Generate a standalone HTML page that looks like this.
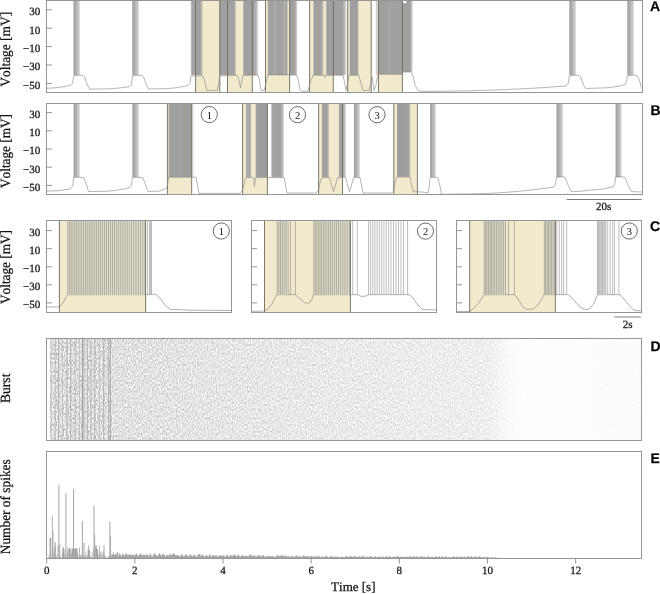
<!DOCTYPE html>
<html><head><meta charset="utf-8"><style>
html,body{margin:0;padding:0;background:#fff;width:660px;height:594px;overflow:hidden;font-family:"Liberation Serif", serif;}
svg{display:block;will-change:transform;} text{font-kerning:none;text-rendering:geometricPrecision;stroke:#111;stroke-width:0.25px;} text.n{stroke:none;}
</style></head><body><svg width="660" height="594" viewBox="0 0 660 594"><defs><linearGradient id="g1" x1="0" x2="1" y1="0" y2="0"><stop offset="0.000" stop-color="#9e9e9e"/><stop offset="0.250" stop-color="#a8a8a8"/><stop offset="0.500" stop-color="#b8b8b8"/><stop offset="0.800" stop-color="#cacaca"/><stop offset="1.000" stop-color="#e6e6e6"/></linearGradient><linearGradient id="g2" x1="0" x2="1" y1="0" y2="0"><stop offset="0.000" stop-color="#c2c2c2"/><stop offset="0.140" stop-color="#a4a4a4"/><stop offset="0.700" stop-color="#a0a0a0"/><stop offset="0.850" stop-color="#b4b2aa"/><stop offset="1.000" stop-color="#f2eacc"/></linearGradient><linearGradient id="g3" x1="0" x2="1" y1="0" y2="0"><stop offset="0.000" stop-color="#a0a0a0"/><stop offset="0.860" stop-color="#a2a2a2"/><stop offset="0.930" stop-color="#c8c4b4"/><stop offset="1.000" stop-color="#f2eacc"/></linearGradient><linearGradient id="g4" x1="0" x2="1" y1="0" y2="0"><stop offset="0.000" stop-color="#b8b6ae"/><stop offset="0.050" stop-color="#a0a0a0"/><stop offset="0.620" stop-color="#9f9f9f"/><stop offset="0.800" stop-color="#aaaaaa"/><stop offset="1.000" stop-color="#dcdcdc"/></linearGradient><linearGradient id="g5" x1="0" x2="1" y1="0" y2="0"><stop offset="0.000" stop-color="#c8c5b8"/><stop offset="0.050" stop-color="#a2a2a2"/><stop offset="0.300" stop-color="#a2a2a2"/><stop offset="0.360" stop-color="#b8b7b0"/><stop offset="0.420" stop-color="#a2a2a2"/><stop offset="0.770" stop-color="#a4a4a4"/><stop offset="0.820" stop-color="#b8b6ae"/><stop offset="0.870" stop-color="#a4a4a4"/><stop offset="0.930" stop-color="#a8a8a6"/><stop offset="1.000" stop-color="#f2eacc"/></linearGradient><linearGradient id="g6" x1="0" x2="1" y1="0" y2="0"><stop offset="0.000" stop-color="#9e9e9e"/><stop offset="0.700" stop-color="#a4a4a4"/><stop offset="1.000" stop-color="#d8d8d8"/></linearGradient><linearGradient id="g7" x1="0" x2="1" y1="0" y2="0"><stop offset="0.000" stop-color="#c8c5b8"/><stop offset="0.070" stop-color="#a0a0a0"/><stop offset="0.720" stop-color="#a2a2a2"/><stop offset="0.880" stop-color="#c6c2b2"/><stop offset="1.000" stop-color="#f2eacc"/></linearGradient><linearGradient id="g8" x1="0" x2="1" y1="0" y2="0"><stop offset="0.000" stop-color="#d0ccbc"/><stop offset="0.060" stop-color="#a0a0a0"/><stop offset="0.780" stop-color="#a0a0a0"/><stop offset="0.900" stop-color="#b8b8b8"/><stop offset="1.000" stop-color="#ececec"/></linearGradient><linearGradient id="g9" x1="0" x2="1" y1="0" y2="0"><stop offset="0.000" stop-color="#c0bdb2"/><stop offset="0.100" stop-color="#9f9f9f"/><stop offset="0.850" stop-color="#a0a0a0"/><stop offset="1.000" stop-color="#cfcab8"/></linearGradient><linearGradient id="g10" x1="0" x2="1" y1="0" y2="0"><stop offset="0.000" stop-color="#a0a0a0"/><stop offset="0.300" stop-color="#a1a1a1"/><stop offset="0.330" stop-color="#ababab"/><stop offset="0.360" stop-color="#a0a0a0"/><stop offset="0.920" stop-color="#a0a0a0"/><stop offset="1.000" stop-color="#d4d4d4"/></linearGradient><linearGradient id="g11" x1="0" x2="1" y1="0" y2="0"><stop offset="0.000" stop-color="#a2a2a2"/><stop offset="0.500" stop-color="#9e9e9e"/><stop offset="0.550" stop-color="#a4a4a4"/><stop offset="0.600" stop-color="#9e9e9e"/><stop offset="1.000" stop-color="#9c9c9c"/></linearGradient><linearGradient id="g12" x1="0" x2="1" y1="0" y2="0"><stop offset="0.000" stop-color="#d4d4d4"/><stop offset="1.000" stop-color="#ffffff"/></linearGradient><linearGradient id="g13" x1="0" x2="1" y1="0" y2="0"><stop offset="0.000" stop-color="#cfcbbb"/><stop offset="0.200" stop-color="#a8a8a8"/><stop offset="0.800" stop-color="#aaaaaa"/><stop offset="1.000" stop-color="#d8d3c0"/></linearGradient><linearGradient id="g14" x1="0" x2="1" y1="0" y2="0"><stop offset="0.000" stop-color="#b0aea6"/><stop offset="0.100" stop-color="#9c9c9c"/><stop offset="1.000" stop-color="#9c9c9c"/></linearGradient><linearGradient id="g15" x1="0" x2="1" y1="0" y2="0"><stop offset="0.000" stop-color="#a4a4a4"/><stop offset="0.700" stop-color="#a2a2a2"/><stop offset="0.850" stop-color="#b2b2b2"/><stop offset="1.000" stop-color="#e0e0e0"/></linearGradient><linearGradient id="g16" x1="0" x2="1" y1="0" y2="0"><stop offset="0.000" stop-color="#b8b5aa"/><stop offset="0.150" stop-color="#9e9e9e"/><stop offset="0.600" stop-color="#a2a2a2"/><stop offset="0.800" stop-color="#b0aea6"/><stop offset="1.000" stop-color="#f2eacc"/></linearGradient><linearGradient id="g17" x1="0" x2="1" y1="0" y2="0"><stop offset="0.000" stop-color="#b8b5aa"/><stop offset="0.150" stop-color="#a0a0a0"/><stop offset="0.600" stop-color="#a4a4a4"/><stop offset="1.000" stop-color="#e0e0e0"/></linearGradient><linearGradient id="g18" x1="0" x2="1" y1="0" y2="0"><stop offset="0.000" stop-color="#b4b2a8"/><stop offset="0.060" stop-color="#9c9c9c"/><stop offset="0.820" stop-color="#9e9e9e"/><stop offset="0.900" stop-color="#b4b2aa"/><stop offset="1.000" stop-color="#f2eacc"/></linearGradient><filter id="dn" x="0" y="0" width="1" height="1" filterUnits="objectBoundingBox" color-interpolation-filters="sRGB"><feTurbulence type="fractalNoise" baseFrequency="0.8 0.45" numOctaves="1" seed="11"/><feColorMatrix type="matrix" values="0.6 0 0 0 0.55  0.6 0 0 0 0.55  0.6 0 0 0 0.55  0 0 0 0 1"/></filter><filter id="dn2" x="0" y="0" width="1" height="1" filterUnits="objectBoundingBox" color-interpolation-filters="sRGB"><feTurbulence type="fractalNoise" baseFrequency="0.85 0.45" numOctaves="1" seed="4"/><feColorMatrix type="matrix" values="0.75 0 0 0 0.5  0.75 0 0 0 0.5  0.75 0 0 0 0.5  0 0 0 0 1"/></filter><linearGradient id="dfade" gradientUnits="userSpaceOnUse" x1="50" x2="642" y1="0" y2="0"><stop offset="0.0000" stop-color="#fff" stop-opacity="0.000"/><stop offset="0.1014" stop-color="#fff" stop-opacity="0.000"/><stop offset="0.1030" stop-color="#fff" stop-opacity="0.200"/><stop offset="0.1858" stop-color="#fff" stop-opacity="0.250"/><stop offset="0.2534" stop-color="#fff" stop-opacity="0.300"/><stop offset="0.4223" stop-color="#fff" stop-opacity="0.420"/><stop offset="0.5912" stop-color="#fff" stop-opacity="0.500"/><stop offset="0.7264" stop-color="#fff" stop-opacity="0.560"/><stop offset="0.7466" stop-color="#fff" stop-opacity="0.620"/><stop offset="0.7601" stop-color="#fff" stop-opacity="0.740"/><stop offset="0.7736" stop-color="#fff" stop-opacity="0.860"/><stop offset="0.7855" stop-color="#fff" stop-opacity="0.930"/><stop offset="0.8024" stop-color="#fff" stop-opacity="0.960"/><stop offset="0.8953" stop-color="#fff" stop-opacity="0.960"/><stop offset="0.9291" stop-color="#fff" stop-opacity="0.930"/><stop offset="1.0000" stop-color="#fff" stop-opacity="0.920"/></linearGradient></defs><rect x="195.60" y="0.50" width="24.20" height="92.00" fill="#f2eacc"/><rect x="227.50" y="0.50" width="24.80" height="92.00" fill="#f2eacc"/><rect x="265.50" y="0.50" width="24.10" height="92.00" fill="#f2eacc"/><rect x="309.60" y="0.50" width="23.70" height="92.00" fill="#f2eacc"/><rect x="347.70" y="0.50" width="23.50" height="92.00" fill="#f2eacc"/><rect x="378.50" y="0.50" width="23.90" height="92.00" fill="#f2eacc"/><rect x="73.50" y="1.00" width="6.50" height="74.20" fill="url(#g1)"/><rect x="132.30" y="1.00" width="6.70" height="74.20" fill="url(#g1)"/><rect x="190.80" y="1.00" width="12.40" height="74.20" fill="url(#g2)"/><rect x="219.60" y="1.00" width="17.00" height="74.20" fill="url(#g3)"/><rect x="243.20" y="1.00" width="15.00" height="74.20" fill="url(#g4)"/><rect x="267.60" y="1.00" width="20.60" height="74.20" fill="url(#g5)"/><rect x="289.60" y="1.00" width="7.60" height="74.20" fill="url(#g6)"/><rect x="313.20" y="1.00" width="11.00" height="74.20" fill="url(#g7)"/><rect x="325.80" y="1.00" width="20.80" height="74.20" fill="url(#g8)"/><rect x="349.60" y="1.00" width="9.00" height="74.20" fill="url(#g9)"/><rect x="375.80" y="1.00" width="2.00" height="74.20" fill="#cfcfcf"/><rect x="378.50" y="1.00" width="34.10" height="73.30" fill="url(#g10)"/><rect x="402.80" y="72.00" width="9.80" height="2.60" fill="#ffffff"/><rect x="402.60" y="0.90" width="3.60" height="2.30" fill="#ffffff"/><rect x="569.30" y="1.00" width="6.70" height="74.20" fill="url(#g1)"/><rect x="627.30" y="1.00" width="6.70" height="74.20" fill="url(#g1)"/><line x1="195.60" y1="0.50" x2="195.60" y2="92.50" stroke="#6e6a5e" stroke-width="0.9"/><line x1="219.80" y1="0.50" x2="219.80" y2="92.50" stroke="#6e6a5e" stroke-width="0.9"/><line x1="227.50" y1="0.50" x2="227.50" y2="92.50" stroke="#6e6a5e" stroke-width="0.9"/><line x1="252.30" y1="0.50" x2="252.30" y2="92.50" stroke="#6e6a5e" stroke-width="0.9"/><line x1="265.50" y1="0.50" x2="265.50" y2="92.50" stroke="#6e6a5e" stroke-width="0.9"/><line x1="289.60" y1="0.50" x2="289.60" y2="92.50" stroke="#6e6a5e" stroke-width="0.9"/><line x1="309.60" y1="0.50" x2="309.60" y2="92.50" stroke="#6e6a5e" stroke-width="0.9"/><line x1="333.30" y1="0.50" x2="333.30" y2="92.50" stroke="#6e6a5e" stroke-width="0.9"/><line x1="347.70" y1="0.50" x2="347.70" y2="92.50" stroke="#6e6a5e" stroke-width="0.9"/><line x1="371.20" y1="0.50" x2="371.20" y2="92.50" stroke="#6e6a5e" stroke-width="0.9"/><line x1="378.50" y1="0.50" x2="378.50" y2="92.50" stroke="#6e6a5e" stroke-width="0.9"/><line x1="402.40" y1="0.50" x2="402.40" y2="92.50" stroke="#6e6a5e" stroke-width="0.9"/><path d="M47.00 88.20 L50.25 88.14 L53.50 87.95 L56.75 87.64 L60.00 87.20 L70.00 85.60 L72.50 83.50 L73.30 78.00 L74.00 75.50 L80.00 75.00 L83.00 75.50 L85.00 78.00 L87.50 85.00 L89.70 89.20 L100.00 89.00 L103.22 88.97 L106.44 88.89 L109.67 88.74 L112.89 88.55 L116.11 88.29 L119.33 87.98 L122.56 87.61 L125.78 87.18 L129.00 86.70 L131.50 85.00 L132.30 76.00 L139.00 75.00 L142.00 75.50 L144.00 78.00 L146.50 85.00 L148.50 89.00 L160.00 88.80 L163.11 88.76 L166.22 88.64 L169.33 88.43 L172.44 88.15 L175.56 87.78 L178.67 87.33 L181.78 86.80 L184.89 86.19 L188.00 85.50 L190.30 83.00 L190.80 76.00 L193.85 76.00 L196.90 76.00 L199.95 76.00 L203.00 76.00 L205.00 82.00 L206.80 90.40 L217.20 90.40 L219.00 82.00 L219.60 76.00 L223.18 75.97 L226.76 75.87 L230.34 75.71 L233.92 75.49 L237.50 75.20 L239.30 82.00 L240.40 88.00 L241.60 82.00 L243.00 75.20 L246.00 75.20 L249.00 75.20 L252.00 75.20 L255.00 75.20 L258.00 75.20 L259.50 80.00 L261.00 90.40 L264.00 90.40 L265.60 85.00 L268.00 74.60 L271.17 74.60 L274.33 74.62 L277.50 74.64 L280.67 74.68 L283.83 74.72 L287.00 74.78 L290.17 74.84 L293.33 74.92 L296.50 75.00 L298.20 80.00 L299.80 89.50 L301.50 91.20 L308.00 91.20 L309.50 85.00 L313.00 75.20 L324.00 75.20 L324.80 77.60 L325.60 75.20 L329.08 75.20 L332.56 75.20 L336.04 75.20 L339.52 75.20 L343.00 75.20 L344.50 82.00 L346.00 90.50 L347.20 85.00 L349.00 75.20 L358.80 75.20 L360.60 82.00 L363.00 90.40 L369.00 90.40 L371.00 82.00 L372.40 77.00 L374.00 90.50 L376.00 85.00 L377.50 76.00 L378.50 74.30 L381.91 74.30 L385.33 74.30 L388.74 74.30 L392.16 74.30 L395.57 74.30 L398.99 74.30 L402.40 74.30 L403.00 72.00 L411.00 72.00 L413.00 76.00 L415.00 85.00 L418.30 90.80 L424.00 91.30 L427.02 91.30 L430.04 91.29 L433.06 91.28 L436.09 91.26 L439.11 91.24 L442.13 91.21 L445.15 91.18 L448.17 91.15 L451.19 91.11 L454.21 91.06 L457.23 91.01 L460.26 90.95 L463.28 90.89 L466.30 90.83 L469.32 90.76 L472.34 90.69 L475.36 90.61 L478.38 90.52 L481.40 90.43 L484.43 90.34 L487.45 90.24 L490.47 90.14 L493.49 90.03 L496.51 89.92 L499.53 89.80 L502.55 89.68 L505.57 89.55 L508.60 89.42 L511.62 89.28 L514.64 89.14 L517.66 88.99 L520.68 88.84 L523.70 88.69 L526.72 88.53 L529.74 88.36 L532.77 88.19 L535.79 88.02 L538.81 87.84 L541.83 87.65 L544.85 87.46 L547.87 87.27 L550.89 87.07 L553.91 86.86 L556.94 86.66 L559.96 86.44 L562.98 86.22 L566.00 86.00 L568.40 83.00 L569.30 76.00 L576.00 75.00 L579.00 75.50 L581.00 78.00 L583.50 85.00 L585.50 88.40 L589.12 88.38 L592.75 88.30 L596.38 88.17 L600.00 88.00 L603.12 87.95 L606.25 87.79 L609.38 87.52 L612.50 87.15 L615.62 86.67 L618.75 86.09 L621.88 85.40 L625.00 84.60 L626.50 82.00 L627.30 76.00 L634.00 75.00 L637.00 75.50 L639.00 79.00 L641.00 86.00 L642.00 87.50" fill="none" stroke="#8c8c8c" stroke-width="0.65" stroke-linejoin="round"/><rect x="46.50" y="0.50" width="596.00" height="92.00" fill="none" stroke="#959595" stroke-width="1"/><line x1="46.50" y1="9.80" x2="52.00" y2="9.80" stroke="#959595" stroke-width="1"/><text x="40.3" y="15.20" text-anchor="end" font-family='"Liberation Serif", serif' font-size="11" fill="#111">30</text><line x1="46.50" y1="28.20" x2="52.00" y2="28.20" stroke="#959595" stroke-width="1"/><text x="40.3" y="33.60" text-anchor="end" font-family='"Liberation Serif", serif' font-size="11" fill="#111">10</text><line x1="46.50" y1="46.60" x2="52.00" y2="46.60" stroke="#959595" stroke-width="1"/><text x="40.3" y="52.00" text-anchor="end" font-family='"Liberation Serif", serif' font-size="11" fill="#111">−10</text><line x1="46.50" y1="65.00" x2="52.00" y2="65.00" stroke="#959595" stroke-width="1"/><text x="40.3" y="70.40" text-anchor="end" font-family='"Liberation Serif", serif' font-size="11" fill="#111">−30</text><line x1="46.50" y1="83.40" x2="52.00" y2="83.40" stroke="#959595" stroke-width="1"/><text x="40.3" y="88.80" text-anchor="end" font-family='"Liberation Serif", serif' font-size="11" fill="#111">−50</text><text x="0" y="0" transform="translate(9.80 49.30) rotate(-90)" text-anchor="middle" font-family='"Liberation Serif", serif' font-size="14" fill="#111" textLength="74.80" lengthAdjust="spacingAndGlyphs">Voltage [mV]</text><text x="650.00" y="10.90" text-anchor="start" font-family='"Liberation Sans", sans-serif' font-size="14" font-weight="bold" fill="#000">A</text><rect x="167.40" y="103.50" width="24.30" height="91.00" fill="#f2eacc"/><rect x="242.60" y="103.50" width="24.80" height="91.00" fill="#f2eacc"/><rect x="318.60" y="103.50" width="23.90" height="91.00" fill="#f2eacc"/><rect x="393.80" y="103.50" width="23.60" height="91.00" fill="#f2eacc"/><rect x="73.60" y="104.00" width="6.30" height="73.20" fill="url(#g1)"/><rect x="132.40" y="104.00" width="6.60" height="73.20" fill="url(#g1)"/><rect x="168.60" y="104.00" width="23.10" height="73.20" fill="url(#g11)"/><rect x="191.70" y="104.00" width="2.90" height="73.20" fill="url(#g12)"/><rect x="245.60" y="104.00" width="5.80" height="73.20" fill="url(#g13)"/><rect x="255.60" y="104.00" width="11.80" height="73.20" fill="url(#g14)"/><rect x="271.40" y="104.00" width="12.60" height="73.20" fill="url(#g15)"/><rect x="321.80" y="104.00" width="7.80" height="73.20" fill="url(#g16)"/><rect x="338.80" y="104.00" width="7.20" height="73.20" fill="url(#g17)"/><rect x="354.00" y="104.00" width="6.00" height="73.20" fill="url(#g1)"/><rect x="397.00" y="104.00" width="13.80" height="72.80" fill="url(#g18)"/><rect x="430.10" y="104.00" width="5.90" height="73.20" fill="url(#g1)"/><rect x="556.50" y="104.00" width="6.60" height="73.20" fill="url(#g1)"/><rect x="615.60" y="104.00" width="6.20" height="73.20" fill="url(#g1)"/><line x1="167.40" y1="103.50" x2="167.40" y2="194.50" stroke="#6e6a5e" stroke-width="0.9"/><line x1="191.70" y1="103.50" x2="191.70" y2="194.50" stroke="#6e6a5e" stroke-width="0.9"/><line x1="242.60" y1="103.50" x2="242.60" y2="194.50" stroke="#6e6a5e" stroke-width="0.9"/><line x1="267.40" y1="103.50" x2="267.40" y2="194.50" stroke="#6e6a5e" stroke-width="0.9"/><line x1="318.60" y1="103.50" x2="318.60" y2="194.50" stroke="#6e6a5e" stroke-width="0.9"/><line x1="342.50" y1="103.50" x2="342.50" y2="194.50" stroke="#6e6a5e" stroke-width="0.9"/><line x1="393.80" y1="103.50" x2="393.80" y2="194.50" stroke="#6e6a5e" stroke-width="0.9"/><line x1="417.40" y1="103.50" x2="417.40" y2="194.50" stroke="#6e6a5e" stroke-width="0.9"/><path d="M47.00 191.00 L50.25 190.97 L53.50 190.88 L56.75 190.72 L60.00 190.50 L70.00 189.00 L72.80 186.00 L73.60 177.50 L80.00 177.20 L84.00 178.00 L86.50 185.00 L88.50 191.60 L100.00 191.40 L103.22 191.36 L106.44 191.22 L109.67 191.00 L112.89 190.69 L116.11 190.29 L119.33 189.80 L122.56 189.22 L125.78 188.56 L129.00 187.80 L131.60 185.00 L132.40 177.50 L139.00 177.20 L143.00 178.00 L145.50 185.00 L148.00 191.60 L160.00 191.00 L166.00 188.50 L167.40 186.00 L168.60 177.20 L171.64 177.20 L174.69 177.20 L177.73 177.20 L180.78 177.20 L183.82 177.20 L186.87 177.20 L189.91 177.20 L192.96 177.20 L196.00 177.20 L197.50 185.00 L199.00 193.30 L202.15 193.30 L205.31 193.30 L208.46 193.30 L211.62 193.30 L214.77 193.30 L217.92 193.30 L221.08 193.30 L224.23 193.30 L227.38 193.30 L230.54 193.30 L233.69 193.30 L236.85 193.30 L240.00 193.30 L242.60 190.00 L245.00 180.00 L246.00 177.60 L253.50 177.60 L254.50 186.60 L255.50 177.60 L258.67 177.60 L261.83 177.60 L265.00 177.60 L268.17 177.60 L271.33 177.60 L274.50 177.60 L277.67 177.60 L280.83 177.60 L284.00 177.60 L285.50 185.00 L287.00 193.00 L290.22 193.00 L293.44 193.00 L296.67 193.00 L299.89 193.00 L303.11 193.00 L306.33 193.00 L309.56 193.00 L312.78 193.00 L316.00 193.00 L318.60 190.00 L320.50 180.00 L322.00 177.60 L329.50 177.60 L331.50 185.00 L333.50 191.60 L335.50 185.00 L337.50 177.60 L345.80 177.60 L347.50 185.00 L349.50 191.60 L351.50 185.00 L353.50 177.60 L360.00 177.60 L361.50 185.00 L363.00 193.00 L366.22 193.00 L369.44 193.00 L372.67 193.00 L375.89 193.00 L379.11 193.00 L382.33 193.00 L385.56 193.00 L388.78 193.00 L392.00 193.00 L393.80 190.00 L395.50 180.00 L397.00 177.00 L400.25 177.00 L403.50 177.00 L406.75 177.00 L410.00 177.00 L411.50 185.00 L413.50 191.60 L417.12 191.69 L420.75 191.95 L424.38 192.39 L428.00 193.00 L429.30 186.00 L430.10 177.50 L436.00 177.20 L438.00 178.00 L440.00 186.00 L441.50 194.20 L444.58 194.19 L447.67 194.18 L450.75 194.15 L453.83 194.11 L456.92 194.06 L460.00 194.00 L463.03 193.99 L466.06 193.97 L469.10 193.93 L472.13 193.88 L475.16 193.82 L478.19 193.74 L481.23 193.64 L484.26 193.53 L487.29 193.41 L490.32 193.27 L493.35 193.12 L496.39 192.95 L499.42 192.77 L502.45 192.57 L505.48 192.36 L508.52 192.14 L511.55 191.89 L514.58 191.64 L517.61 191.37 L520.65 191.09 L523.68 190.79 L526.71 190.47 L529.74 190.15 L532.77 189.80 L535.81 189.45 L538.84 189.08 L541.87 188.69 L544.90 188.29 L547.94 187.87 L550.97 187.44 L554.00 187.00 L555.60 184.00 L556.50 177.00 L563.00 176.70 L565.00 177.50 L568.00 185.00 L571.40 191.60 L574.50 191.56 L577.60 191.42 L580.70 191.20 L583.80 190.89 L586.90 190.49 L590.00 190.00 L593.34 189.93 L596.69 189.72 L600.03 189.38 L603.37 188.89 L606.71 188.27 L610.06 187.50 L613.40 186.60 L615.00 183.00 L615.60 177.00 L621.70 176.70 L625.00 177.50 L628.00 185.00 L631.60 191.60 L642.00 192.00" fill="none" stroke="#8c8c8c" stroke-width="0.65" stroke-linejoin="round"/><rect x="46.50" y="103.50" width="596.00" height="91.00" fill="none" stroke="#959595" stroke-width="1"/><line x1="46.50" y1="112.60" x2="52.00" y2="112.60" stroke="#959595" stroke-width="1"/><text x="40.3" y="118.00" text-anchor="end" font-family='"Liberation Serif", serif' font-size="11" fill="#111">30</text><line x1="46.50" y1="130.80" x2="52.00" y2="130.80" stroke="#959595" stroke-width="1"/><text x="40.3" y="136.20" text-anchor="end" font-family='"Liberation Serif", serif' font-size="11" fill="#111">10</text><line x1="46.50" y1="149.00" x2="52.00" y2="149.00" stroke="#959595" stroke-width="1"/><text x="40.3" y="154.40" text-anchor="end" font-family='"Liberation Serif", serif' font-size="11" fill="#111">−10</text><line x1="46.50" y1="167.20" x2="52.00" y2="167.20" stroke="#959595" stroke-width="1"/><text x="40.3" y="172.60" text-anchor="end" font-family='"Liberation Serif", serif' font-size="11" fill="#111">−30</text><line x1="46.50" y1="185.40" x2="52.00" y2="185.40" stroke="#959595" stroke-width="1"/><text x="40.3" y="190.80" text-anchor="end" font-family='"Liberation Serif", serif' font-size="11" fill="#111">−50</text><text x="0" y="0" transform="translate(9.80 151.00) rotate(-90)" text-anchor="middle" font-family='"Liberation Serif", serif' font-size="14" fill="#111" textLength="74.00" lengthAdjust="spacingAndGlyphs">Voltage [mV]</text><text x="650.50" y="114.60" text-anchor="start" font-family='"Liberation Sans", sans-serif' font-size="14" font-weight="bold" fill="#000">B</text><circle cx="209.30" cy="114.60" r="8.1" fill="#fff" stroke="#444" stroke-width="0.8"/><text x="209.30" y="118.70" text-anchor="middle" font-family='"Liberation Serif", serif' font-size="10.5" font-weight="normal" fill="#111" class="n">1</text><circle cx="297.50" cy="114.70" r="8.1" fill="#fff" stroke="#444" stroke-width="0.8"/><text x="297.50" y="118.80" text-anchor="middle" font-family='"Liberation Serif", serif' font-size="10.5" font-weight="normal" fill="#111" class="n">2</text><circle cx="377.00" cy="114.70" r="8.1" fill="#fff" stroke="#444" stroke-width="0.8"/><text x="377.00" y="118.80" text-anchor="middle" font-family='"Liberation Serif", serif' font-size="10.5" font-weight="normal" fill="#111" class="n">3</text><line x1="566.8" y1="199.5" x2="641.8" y2="199.5" stroke="#7a7a7a" stroke-width="1"/><text x="603.60" y="210.30" text-anchor="middle" font-family='"Liberation Serif", serif' font-size="11" font-weight="normal" fill="#111">20s</text><rect x="59.40" y="220.50" width="86.20" height="92.00" fill="#f2eacc"/><path d="M47.00 307.00 L58.00 307.00 L60.00 306.50 L63.00 303.00 L65.50 298.00 L67.40 294.60 L70.44 294.60 L73.48 294.60 L76.52 294.60 L79.56 294.60 L82.60 294.60 L85.64 294.60 L88.68 294.60 L91.71 294.60 L94.75 294.60 L97.79 294.60 L100.83 294.60 L103.87 294.60 L106.91 294.60 L109.95 294.60 L112.99 294.60 L116.03 294.60 L119.07 294.60 L122.11 294.60 L125.15 294.60 L128.19 294.60 L131.22 294.60 L134.26 294.60 L137.30 294.60 L140.34 294.60 L143.38 294.60 L146.42 294.60 L149.46 294.60 L152.50 294.60 L154.00 293.80 L156.50 294.80 L160.00 298.00 L165.00 305.00 L170.70 309.50 L173.92 309.52 L177.13 309.59 L180.35 309.70 L183.57 309.86 L186.78 310.06 L190.00 310.30 L193.15 310.30 L196.31 310.30 L199.46 310.31 L202.62 310.32 L205.77 310.33 L208.92 310.34 L212.08 310.36 L215.23 310.38 L218.38 310.40 L221.54 310.42 L224.69 310.44 L227.85 310.47 L231.00 310.50" fill="none" stroke="#8c8c8c" stroke-width="0.70" stroke-linejoin="round"/><rect x="67.60" y="221.20" width="77.60" height="74.10" fill="#e4dfcc"/><line x1="67.80" y1="221.20" x2="67.80" y2="295.10" stroke="#9e9b90" stroke-width="0.75"/><line x1="69.50" y1="221.20" x2="69.50" y2="295.10" stroke="#9e9b90" stroke-width="0.75"/><line x1="71.22" y1="221.20" x2="71.22" y2="295.10" stroke="#9e9b90" stroke-width="0.75"/><line x1="72.95" y1="221.20" x2="72.95" y2="295.10" stroke="#9e9b90" stroke-width="0.75"/><line x1="74.69" y1="221.20" x2="74.69" y2="295.10" stroke="#9e9b90" stroke-width="0.75"/><line x1="76.44" y1="221.20" x2="76.44" y2="295.10" stroke="#9e9b90" stroke-width="0.75"/><line x1="78.21" y1="221.20" x2="78.21" y2="295.10" stroke="#9e9b90" stroke-width="0.75"/><line x1="80.00" y1="221.20" x2="80.00" y2="295.10" stroke="#9e9b90" stroke-width="0.75"/><line x1="81.79" y1="221.20" x2="81.79" y2="295.10" stroke="#9e9b90" stroke-width="0.75"/><line x1="83.61" y1="221.20" x2="83.61" y2="295.10" stroke="#9e9b90" stroke-width="0.75"/><line x1="85.43" y1="221.20" x2="85.43" y2="295.10" stroke="#9e9b90" stroke-width="0.75"/><line x1="87.27" y1="221.20" x2="87.27" y2="295.10" stroke="#9e9b90" stroke-width="0.75"/><line x1="89.12" y1="221.20" x2="89.12" y2="295.10" stroke="#9e9b90" stroke-width="0.75"/><line x1="90.99" y1="221.20" x2="90.99" y2="295.10" stroke="#9e9b90" stroke-width="0.75"/><line x1="92.87" y1="221.20" x2="92.87" y2="295.10" stroke="#9e9b90" stroke-width="0.75"/><line x1="94.77" y1="221.20" x2="94.77" y2="295.10" stroke="#9e9b90" stroke-width="0.75"/><line x1="96.68" y1="221.20" x2="96.68" y2="295.10" stroke="#9e9b90" stroke-width="0.75"/><line x1="98.61" y1="221.20" x2="98.61" y2="295.10" stroke="#9e9b90" stroke-width="0.75"/><line x1="100.55" y1="221.20" x2="100.55" y2="295.10" stroke="#9e9b90" stroke-width="0.75"/><line x1="102.51" y1="221.20" x2="102.51" y2="295.10" stroke="#9e9b90" stroke-width="0.75"/><line x1="104.48" y1="221.20" x2="104.48" y2="295.10" stroke="#9e9b90" stroke-width="0.75"/><line x1="106.47" y1="221.20" x2="106.47" y2="295.10" stroke="#9e9b90" stroke-width="0.75"/><line x1="108.47" y1="221.20" x2="108.47" y2="295.10" stroke="#9e9b90" stroke-width="0.75"/><line x1="110.49" y1="221.20" x2="110.49" y2="295.10" stroke="#9e9b90" stroke-width="0.75"/><line x1="112.52" y1="221.20" x2="112.52" y2="295.10" stroke="#9e9b90" stroke-width="0.75"/><line x1="114.57" y1="221.20" x2="114.57" y2="295.10" stroke="#9e9b90" stroke-width="0.75"/><line x1="116.64" y1="221.20" x2="116.64" y2="295.10" stroke="#9e9b90" stroke-width="0.75"/><line x1="118.72" y1="221.20" x2="118.72" y2="295.10" stroke="#9e9b90" stroke-width="0.75"/><line x1="120.82" y1="221.20" x2="120.82" y2="295.10" stroke="#9e9b90" stroke-width="0.75"/><line x1="122.93" y1="221.20" x2="122.93" y2="295.10" stroke="#9e9b90" stroke-width="0.75"/><line x1="125.06" y1="221.20" x2="125.06" y2="295.10" stroke="#9e9b90" stroke-width="0.75"/><line x1="127.21" y1="221.20" x2="127.21" y2="295.10" stroke="#9e9b90" stroke-width="0.75"/><line x1="129.37" y1="221.20" x2="129.37" y2="295.10" stroke="#9e9b90" stroke-width="0.75"/><line x1="131.55" y1="221.20" x2="131.55" y2="295.10" stroke="#9e9b90" stroke-width="0.75"/><line x1="133.75" y1="221.20" x2="133.75" y2="295.10" stroke="#9e9b90" stroke-width="0.75"/><line x1="135.97" y1="221.20" x2="135.97" y2="295.10" stroke="#9e9b90" stroke-width="0.75"/><line x1="138.20" y1="221.20" x2="138.20" y2="295.10" stroke="#9e9b90" stroke-width="0.75"/><line x1="140.45" y1="221.20" x2="140.45" y2="295.10" stroke="#9e9b90" stroke-width="0.75"/><line x1="142.72" y1="221.20" x2="142.72" y2="295.10" stroke="#9e9b90" stroke-width="0.75"/><line x1="145.00" y1="221.20" x2="145.00" y2="295.10" stroke="#9e9b90" stroke-width="0.75"/><line x1="147.50" y1="221.20" x2="147.50" y2="295.10" stroke="#a8a8a8" stroke-width="0.75"/><line x1="149.50" y1="221.20" x2="149.50" y2="295.10" stroke="#a8a8a8" stroke-width="0.75"/><line x1="150.50" y1="221.20" x2="150.50" y2="295.10" stroke="#a8a8a8" stroke-width="0.75"/><line x1="151.50" y1="221.20" x2="151.50" y2="295.10" stroke="#a8a8a8" stroke-width="0.75"/><line x1="59.40" y1="220.50" x2="59.40" y2="312.50" stroke="#6e6a5e" stroke-width="0.9"/><line x1="145.60" y1="220.50" x2="145.60" y2="312.50" stroke="#6e6a5e" stroke-width="0.9"/><rect x="46.50" y="220.50" width="185.00" height="92.00" fill="none" stroke="#959595" stroke-width="1"/><line x1="46.50" y1="230.60" x2="52.00" y2="230.60" stroke="#959595" stroke-width="1"/><text x="40.3" y="236.00" text-anchor="end" font-family='"Liberation Serif", serif' font-size="11" fill="#111">30</text><line x1="46.50" y1="248.70" x2="52.00" y2="248.70" stroke="#959595" stroke-width="1"/><text x="40.3" y="254.10" text-anchor="end" font-family='"Liberation Serif", serif' font-size="11" fill="#111">10</text><line x1="46.50" y1="266.80" x2="52.00" y2="266.80" stroke="#959595" stroke-width="1"/><text x="40.3" y="272.20" text-anchor="end" font-family='"Liberation Serif", serif' font-size="11" fill="#111">−10</text><line x1="46.50" y1="284.80" x2="52.00" y2="284.80" stroke="#959595" stroke-width="1"/><text x="40.3" y="290.20" text-anchor="end" font-family='"Liberation Serif", serif' font-size="11" fill="#111">−30</text><line x1="46.50" y1="302.90" x2="52.00" y2="302.90" stroke="#959595" stroke-width="1"/><text x="40.3" y="308.30" text-anchor="end" font-family='"Liberation Serif", serif' font-size="11" fill="#111">−50</text><circle cx="221.30" cy="231.00" r="8.1" fill="#fff" stroke="#444" stroke-width="0.8"/><text x="221.30" y="235.10" text-anchor="middle" font-family='"Liberation Serif", serif' font-size="10.5" font-weight="normal" fill="#111" class="n">1</text><text x="0" y="0" transform="translate(9.80 267.00) rotate(-90)" text-anchor="middle" font-family='"Liberation Serif", serif' font-size="14" fill="#111" textLength="74.00" lengthAdjust="spacingAndGlyphs">Voltage [mV]</text><rect x="264.50" y="220.50" width="85.90" height="92.00" fill="#f2eacc"/><path d="M252.00 311.30 L255.12 311.28 L258.25 311.23 L261.38 311.13 L264.50 311.00 L268.00 309.00 L272.00 304.00 L275.00 298.00 L276.80 294.60 L279.90 294.60 L283.00 294.60 L286.10 294.60 L289.20 294.60 L292.30 294.60 L295.40 294.60 L297.00 296.00 L300.00 299.00 L304.00 302.50 L307.70 303.30 L310.50 302.00 L312.50 298.00 L313.40 294.60 L316.55 294.60 L319.70 294.60 L322.85 294.60 L326.00 294.60 L329.15 294.60 L332.30 294.60 L335.45 294.60 L338.60 294.60 L341.75 294.60 L344.90 294.60 L348.05 294.60 L351.20 294.60 L354.35 294.60 L357.50 294.60 L359.00 295.50 L362.00 296.50 L366.00 296.00 L368.20 294.60 L371.25 294.60 L374.29 294.60 L377.34 294.60 L380.38 294.60 L383.43 294.60 L386.48 294.60 L389.52 294.60 L392.57 294.60 L395.62 294.60 L398.66 294.60 L401.71 294.60 L404.75 294.60 L407.80 294.60 L410.00 295.00 L413.00 298.00 L417.00 304.00 L422.70 309.50 L426.02 309.53 L429.35 309.62 L432.68 309.78 L436.00 310.00" fill="none" stroke="#8c8c8c" stroke-width="0.70" stroke-linejoin="round"/><rect x="277.20" y="221.20" width="11.00" height="74.10" fill="#e4dfcc"/><rect x="313.80" y="221.20" width="36.60" height="74.10" fill="#e4dfcc"/><line x1="277.20" y1="221.20" x2="277.20" y2="295.10" stroke="#9e9b90" stroke-width="0.75"/><line x1="278.80" y1="221.20" x2="278.80" y2="295.10" stroke="#9e9b90" stroke-width="0.75"/><line x1="280.48" y1="221.20" x2="280.48" y2="295.10" stroke="#9e9b90" stroke-width="0.75"/><line x1="282.26" y1="221.20" x2="282.26" y2="295.10" stroke="#9e9b90" stroke-width="0.75"/><line x1="284.14" y1="221.20" x2="284.14" y2="295.10" stroke="#9e9b90" stroke-width="0.75"/><line x1="286.11" y1="221.20" x2="286.11" y2="295.10" stroke="#9e9b90" stroke-width="0.75"/><line x1="288.20" y1="221.20" x2="288.20" y2="295.10" stroke="#9e9b90" stroke-width="0.75"/><line x1="290.60" y1="221.20" x2="290.60" y2="295.10" stroke="#9e9b90" stroke-width="0.75"/><line x1="295.40" y1="221.20" x2="295.40" y2="295.10" stroke="#9e9b90" stroke-width="0.75"/><line x1="313.80" y1="221.20" x2="313.80" y2="295.10" stroke="#9e9b90" stroke-width="0.75"/><line x1="315.29" y1="221.20" x2="315.29" y2="295.10" stroke="#9e9b90" stroke-width="0.75"/><line x1="316.82" y1="221.20" x2="316.82" y2="295.10" stroke="#9e9b90" stroke-width="0.75"/><line x1="318.39" y1="221.20" x2="318.39" y2="295.10" stroke="#9e9b90" stroke-width="0.75"/><line x1="320.00" y1="221.20" x2="320.00" y2="295.10" stroke="#9e9b90" stroke-width="0.75"/><line x1="321.65" y1="221.20" x2="321.65" y2="295.10" stroke="#9e9b90" stroke-width="0.75"/><line x1="323.34" y1="221.20" x2="323.34" y2="295.10" stroke="#9e9b90" stroke-width="0.75"/><line x1="325.07" y1="221.20" x2="325.07" y2="295.10" stroke="#9e9b90" stroke-width="0.75"/><line x1="326.85" y1="221.20" x2="326.85" y2="295.10" stroke="#9e9b90" stroke-width="0.75"/><line x1="328.67" y1="221.20" x2="328.67" y2="295.10" stroke="#9e9b90" stroke-width="0.75"/><line x1="330.54" y1="221.20" x2="330.54" y2="295.10" stroke="#9e9b90" stroke-width="0.75"/><line x1="332.45" y1="221.20" x2="332.45" y2="295.10" stroke="#9e9b90" stroke-width="0.75"/><line x1="334.41" y1="221.20" x2="334.41" y2="295.10" stroke="#9e9b90" stroke-width="0.75"/><line x1="336.42" y1="221.20" x2="336.42" y2="295.10" stroke="#9e9b90" stroke-width="0.75"/><line x1="338.49" y1="221.20" x2="338.49" y2="295.10" stroke="#9e9b90" stroke-width="0.75"/><line x1="340.60" y1="221.20" x2="340.60" y2="295.10" stroke="#9e9b90" stroke-width="0.75"/><line x1="342.77" y1="221.20" x2="342.77" y2="295.10" stroke="#9e9b90" stroke-width="0.75"/><line x1="344.99" y1="221.20" x2="344.99" y2="295.10" stroke="#9e9b90" stroke-width="0.75"/><line x1="347.27" y1="221.20" x2="347.27" y2="295.10" stroke="#9e9b90" stroke-width="0.75"/><line x1="349.60" y1="221.20" x2="349.60" y2="295.10" stroke="#9e9b90" stroke-width="0.75"/><line x1="352.70" y1="221.20" x2="352.70" y2="295.10" stroke="#a8a8a8" stroke-width="0.75"/><line x1="357.30" y1="221.20" x2="357.30" y2="295.10" stroke="#a8a8a8" stroke-width="0.75"/><line x1="368.50" y1="221.20" x2="368.50" y2="295.10" stroke="#a8a8a8" stroke-width="0.75"/><line x1="370.62" y1="221.20" x2="370.62" y2="295.10" stroke="#a8a8a8" stroke-width="0.75"/><line x1="372.76" y1="221.20" x2="372.76" y2="295.10" stroke="#a8a8a8" stroke-width="0.75"/><line x1="374.94" y1="221.20" x2="374.94" y2="295.10" stroke="#a8a8a8" stroke-width="0.75"/><line x1="377.14" y1="221.20" x2="377.14" y2="295.10" stroke="#a8a8a8" stroke-width="0.75"/><line x1="379.38" y1="221.20" x2="379.38" y2="295.10" stroke="#a8a8a8" stroke-width="0.75"/><line x1="381.65" y1="221.20" x2="381.65" y2="295.10" stroke="#a8a8a8" stroke-width="0.75"/><line x1="383.96" y1="221.20" x2="383.96" y2="295.10" stroke="#a8a8a8" stroke-width="0.75"/><line x1="386.29" y1="221.20" x2="386.29" y2="295.10" stroke="#a8a8a8" stroke-width="0.75"/><line x1="388.66" y1="221.20" x2="388.66" y2="295.10" stroke="#a8a8a8" stroke-width="0.75"/><line x1="391.06" y1="221.20" x2="391.06" y2="295.10" stroke="#a8a8a8" stroke-width="0.75"/><line x1="393.50" y1="221.20" x2="393.50" y2="295.10" stroke="#a8a8a8" stroke-width="0.75"/><line x1="395.97" y1="221.20" x2="395.97" y2="295.10" stroke="#a8a8a8" stroke-width="0.75"/><line x1="398.48" y1="221.20" x2="398.48" y2="295.10" stroke="#a8a8a8" stroke-width="0.75"/><line x1="401.02" y1="221.20" x2="401.02" y2="295.10" stroke="#a8a8a8" stroke-width="0.75"/><line x1="403.60" y1="221.20" x2="403.60" y2="295.10" stroke="#a8a8a8" stroke-width="0.75"/><line x1="407.60" y1="221.20" x2="407.60" y2="295.10" stroke="#a8a8a8" stroke-width="0.75"/><line x1="264.50" y1="220.50" x2="264.50" y2="312.50" stroke="#6e6a5e" stroke-width="0.9"/><line x1="350.40" y1="220.50" x2="350.40" y2="312.50" stroke="#6e6a5e" stroke-width="0.9"/><rect x="251.50" y="220.50" width="185.00" height="92.00" fill="none" stroke="#959595" stroke-width="1"/><line x1="251.50" y1="230.60" x2="257.00" y2="230.60" stroke="#959595" stroke-width="1"/><line x1="251.50" y1="248.70" x2="257.00" y2="248.70" stroke="#959595" stroke-width="1"/><line x1="251.50" y1="266.80" x2="257.00" y2="266.80" stroke="#959595" stroke-width="1"/><line x1="251.50" y1="284.80" x2="257.00" y2="284.80" stroke="#959595" stroke-width="1"/><line x1="251.50" y1="302.90" x2="257.00" y2="302.90" stroke="#959595" stroke-width="1"/><circle cx="425.50" cy="231.10" r="8.1" fill="#fff" stroke="#444" stroke-width="0.8"/><text x="425.50" y="235.20" text-anchor="middle" font-family='"Liberation Serif", serif' font-size="10.5" font-weight="normal" fill="#111" class="n">2</text><rect x="469.70" y="220.50" width="85.70" height="92.00" fill="#f2eacc"/><path d="M457.00 311.50 L460.18 311.50 L463.35 311.50 L466.52 311.50 L469.70 311.50 L473.00 309.00 L478.00 304.00 L482.00 298.00 L484.00 294.60 L487.03 294.60 L490.06 294.60 L493.09 294.60 L496.12 294.60 L499.15 294.60 L502.18 294.60 L505.21 294.60 L508.24 294.60 L511.27 294.60 L514.30 294.60 L516.00 296.00 L519.00 301.00 L523.00 307.00 L527.00 309.40 L533.00 309.00 L538.00 305.00 L541.50 299.00 L544.00 294.60 L547.34 294.60 L550.69 294.60 L554.03 294.60 L557.37 294.60 L560.71 294.60 L564.06 294.60 L567.40 294.60 L569.00 295.50 L573.00 299.00 L578.00 305.00 L582.00 308.50 L586.00 309.60 L590.00 308.50 L594.00 303.00 L596.50 297.00 L597.40 294.60 L600.47 294.60 L603.54 294.60 L606.61 294.60 L609.69 294.60 L612.76 294.60 L615.83 294.60 L618.90 294.60 L621.00 295.50 L624.00 299.00 L629.00 305.00 L633.00 309.50 L636.30 310.70 L641.00 310.70" fill="none" stroke="#8c8c8c" stroke-width="0.70" stroke-linejoin="round"/><rect x="484.20" y="221.20" width="21.30" height="74.10" fill="#e4dfcc"/><rect x="544.30" y="221.20" width="11.10" height="74.10" fill="#e4dfcc"/><rect x="597.40" y="221.20" width="8.40" height="74.10" fill="#e2e2e2"/><line x1="484.20" y1="221.20" x2="484.20" y2="295.10" stroke="#9e9b90" stroke-width="0.75"/><line x1="485.58" y1="221.20" x2="485.58" y2="295.10" stroke="#9e9b90" stroke-width="0.75"/><line x1="487.00" y1="221.20" x2="487.00" y2="295.10" stroke="#9e9b90" stroke-width="0.75"/><line x1="488.46" y1="221.20" x2="488.46" y2="295.10" stroke="#9e9b90" stroke-width="0.75"/><line x1="489.96" y1="221.20" x2="489.96" y2="295.10" stroke="#9e9b90" stroke-width="0.75"/><line x1="491.50" y1="221.20" x2="491.50" y2="295.10" stroke="#9e9b90" stroke-width="0.75"/><line x1="493.08" y1="221.20" x2="493.08" y2="295.10" stroke="#9e9b90" stroke-width="0.75"/><line x1="494.71" y1="221.20" x2="494.71" y2="295.10" stroke="#9e9b90" stroke-width="0.75"/><line x1="496.39" y1="221.20" x2="496.39" y2="295.10" stroke="#9e9b90" stroke-width="0.75"/><line x1="498.11" y1="221.20" x2="498.11" y2="295.10" stroke="#9e9b90" stroke-width="0.75"/><line x1="499.88" y1="221.20" x2="499.88" y2="295.10" stroke="#9e9b90" stroke-width="0.75"/><line x1="501.70" y1="221.20" x2="501.70" y2="295.10" stroke="#9e9b90" stroke-width="0.75"/><line x1="503.57" y1="221.20" x2="503.57" y2="295.10" stroke="#9e9b90" stroke-width="0.75"/><line x1="505.50" y1="221.20" x2="505.50" y2="295.10" stroke="#9e9b90" stroke-width="0.75"/><line x1="508.50" y1="221.20" x2="508.50" y2="295.10" stroke="#9e9b90" stroke-width="0.75"/><line x1="514.40" y1="221.20" x2="514.40" y2="295.10" stroke="#9e9b90" stroke-width="0.75"/><line x1="544.30" y1="221.20" x2="544.30" y2="295.10" stroke="#9e9b90" stroke-width="0.75"/><line x1="545.65" y1="221.20" x2="545.65" y2="295.10" stroke="#9e9b90" stroke-width="0.75"/><line x1="547.05" y1="221.20" x2="547.05" y2="295.10" stroke="#9e9b90" stroke-width="0.75"/><line x1="548.51" y1="221.20" x2="548.51" y2="295.10" stroke="#9e9b90" stroke-width="0.75"/><line x1="550.02" y1="221.20" x2="550.02" y2="295.10" stroke="#9e9b90" stroke-width="0.75"/><line x1="551.59" y1="221.20" x2="551.59" y2="295.10" stroke="#9e9b90" stroke-width="0.75"/><line x1="553.21" y1="221.20" x2="553.21" y2="295.10" stroke="#9e9b90" stroke-width="0.75"/><line x1="554.90" y1="221.20" x2="554.90" y2="295.10" stroke="#9e9b90" stroke-width="0.75"/><line x1="556.80" y1="221.20" x2="556.80" y2="295.10" stroke="#a8a8a8" stroke-width="0.75"/><line x1="559.30" y1="221.20" x2="559.30" y2="295.10" stroke="#a8a8a8" stroke-width="0.75"/><line x1="561.70" y1="221.20" x2="561.70" y2="295.10" stroke="#a8a8a8" stroke-width="0.75"/><line x1="563.60" y1="221.20" x2="563.60" y2="295.10" stroke="#a8a8a8" stroke-width="0.75"/><line x1="566.70" y1="221.20" x2="566.70" y2="295.10" stroke="#a8a8a8" stroke-width="0.75"/><line x1="597.40" y1="221.20" x2="597.40" y2="295.10" stroke="#a8a8a8" stroke-width="0.75"/><line x1="598.61" y1="221.20" x2="598.61" y2="295.10" stroke="#a8a8a8" stroke-width="0.75"/><line x1="599.88" y1="221.20" x2="599.88" y2="295.10" stroke="#a8a8a8" stroke-width="0.75"/><line x1="601.24" y1="221.20" x2="601.24" y2="295.10" stroke="#a8a8a8" stroke-width="0.75"/><line x1="602.67" y1="221.20" x2="602.67" y2="295.10" stroke="#a8a8a8" stroke-width="0.75"/><line x1="604.19" y1="221.20" x2="604.19" y2="295.10" stroke="#a8a8a8" stroke-width="0.75"/><line x1="605.80" y1="221.20" x2="605.80" y2="295.10" stroke="#a8a8a8" stroke-width="0.75"/><line x1="607.70" y1="221.20" x2="607.70" y2="295.10" stroke="#a8a8a8" stroke-width="0.75"/><line x1="610.20" y1="221.20" x2="610.20" y2="295.10" stroke="#a8a8a8" stroke-width="0.75"/><line x1="612.70" y1="221.20" x2="612.70" y2="295.10" stroke="#a8a8a8" stroke-width="0.75"/><line x1="614.50" y1="221.20" x2="614.50" y2="295.10" stroke="#a8a8a8" stroke-width="0.75"/><line x1="618.90" y1="221.20" x2="618.90" y2="295.10" stroke="#a8a8a8" stroke-width="0.75"/><line x1="469.70" y1="220.50" x2="469.70" y2="312.50" stroke="#6e6a5e" stroke-width="0.9"/><line x1="555.40" y1="220.50" x2="555.40" y2="312.50" stroke="#6e6a5e" stroke-width="0.9"/><rect x="456.50" y="220.50" width="185.00" height="92.00" fill="none" stroke="#959595" stroke-width="1"/><line x1="456.50" y1="230.60" x2="462.00" y2="230.60" stroke="#959595" stroke-width="1"/><line x1="456.50" y1="248.70" x2="462.00" y2="248.70" stroke="#959595" stroke-width="1"/><line x1="456.50" y1="266.80" x2="462.00" y2="266.80" stroke="#959595" stroke-width="1"/><line x1="456.50" y1="284.80" x2="462.00" y2="284.80" stroke="#959595" stroke-width="1"/><line x1="456.50" y1="302.90" x2="462.00" y2="302.90" stroke="#959595" stroke-width="1"/><circle cx="629.30" cy="231.00" r="8.1" fill="#fff" stroke="#444" stroke-width="0.8"/><text x="629.30" y="235.10" text-anchor="middle" font-family='"Liberation Serif", serif' font-size="10.5" font-weight="normal" fill="#111" class="n">3</text><text x="650.00" y="230.80" text-anchor="start" font-family='"Liberation Sans", sans-serif' font-size="14" font-weight="bold" fill="#000">C</text><line x1="614.4" y1="317.0" x2="640.8" y2="317.0" stroke="#7a7a7a" stroke-width="1"/><text x="627.60" y="328.20" text-anchor="middle" font-family='"Liberation Serif", serif' font-size="11" font-weight="normal" fill="#111">2s</text><rect x="110.3" y="339" width="531" height="101" filter="url(#dn)"/><rect x="50.4" y="339" width="60" height="101" filter="url(#dn2)"/><line x1="51.00" y1="339.00" x2="51.00" y2="440.00" stroke="#bcbcbc" stroke-width="1.00" opacity="0.85"/><line x1="55.18" y1="339.00" x2="55.18" y2="440.00" stroke="#b4b4b4" stroke-width="1.00" opacity="0.85"/><line x1="58.60" y1="339.00" x2="58.60" y2="440.00" stroke="#a8a8a8" stroke-width="1.00" opacity="0.85"/><line x1="62.34" y1="339.00" x2="62.34" y2="440.00" stroke="#bcbcbc" stroke-width="1.00" opacity="0.85"/><line x1="66.98" y1="339.00" x2="66.98" y2="440.00" stroke="#a8a8a8" stroke-width="1.00" opacity="0.85"/><line x1="70.72" y1="339.00" x2="70.72" y2="440.00" stroke="#a8a8a8" stroke-width="1.00" opacity="0.85"/><line x1="75.08" y1="339.00" x2="75.08" y2="440.00" stroke="#b0b0b0" stroke-width="1.00" opacity="0.85"/><line x1="79.41" y1="339.00" x2="79.41" y2="440.00" stroke="#bcbcbc" stroke-width="1.00" opacity="0.85"/><line x1="84.13" y1="339.00" x2="84.13" y2="440.00" stroke="#bcbcbc" stroke-width="1.00" opacity="0.85"/><line x1="87.58" y1="339.00" x2="87.58" y2="440.00" stroke="#b0b0b0" stroke-width="1.00" opacity="0.85"/><line x1="90.86" y1="339.00" x2="90.86" y2="440.00" stroke="#b0b0b0" stroke-width="1.00" opacity="0.85"/><line x1="94.87" y1="339.00" x2="94.87" y2="440.00" stroke="#a8a8a8" stroke-width="1.00" opacity="0.85"/><line x1="99.31" y1="339.00" x2="99.31" y2="440.00" stroke="#bcbcbc" stroke-width="1.00" opacity="0.85"/><line x1="103.77" y1="339.00" x2="103.77" y2="440.00" stroke="#a8a8a8" stroke-width="1.00" opacity="0.85"/><line x1="108.44" y1="339.00" x2="108.44" y2="440.00" stroke="#b0b0b0" stroke-width="1.00" opacity="0.85"/><line x1="82.60" y1="339.00" x2="82.60" y2="440.00" stroke="#a0a0a0" stroke-width="1.40" opacity="0.9"/><line x1="110.30" y1="339.00" x2="110.30" y2="440.00" stroke="#8c8c8c" stroke-width="1.00" opacity="0.9"/><rect x="50.4" y="339" width="591" height="101" fill="url(#dfade)"/><rect x="46.50" y="338.50" width="595.00" height="102.00" fill="none" stroke="#959595" stroke-width="1"/><text x="0" y="0" transform="translate(9.80 388.30) rotate(-90)" text-anchor="middle" font-family='"Liberation Serif", serif' font-size="14" fill="#111" textLength="29.50" lengthAdjust="spacingAndGlyphs">Burst</text><text x="650.50" y="351.40" text-anchor="start" font-family='"Liberation Sans", sans-serif' font-size="14" font-weight="bold" fill="#000">D</text><rect x="49.60" y="538.00" width="1.60" height="20.50" fill="#a6a6a6"/><rect x="51.85" y="515.60" width="0.90" height="42.90" fill="#a6a6a6"/><rect x="52.55" y="530.80" width="0.90" height="27.70" fill="#a6a6a6"/><rect x="54.70" y="542.00" width="1.00" height="16.50" fill="#a6a6a6"/><rect x="58.40" y="484.70" width="1.00" height="73.80" fill="#a6a6a6"/><rect x="59.35" y="544.00" width="0.90" height="14.50" fill="#a6a6a6"/><rect x="62.40" y="547.60" width="1.60" height="10.90" fill="#a6a6a6"/><rect x="65.40" y="492.70" width="1.00" height="65.80" fill="#a6a6a6"/><rect x="66.75" y="550.80" width="0.90" height="7.70" fill="#a6a6a6"/><rect x="68.40" y="548.40" width="2.40" height="10.10" fill="#a6a6a6"/><rect x="73.10" y="488.90" width="1.00" height="69.60" fill="#a6a6a6"/><rect x="71.60" y="548.40" width="6.00" height="10.10" fill="#a6a6a6"/><rect x="81.90" y="520.90" width="1.00" height="37.60" fill="#a6a6a6"/><rect x="83.50" y="542.80" width="1.00" height="15.70" fill="#a6a6a6"/><rect x="87.60" y="550.00" width="2.40" height="8.50" fill="#a6a6a6"/><rect x="93.50" y="505.50" width="1.00" height="53.00" fill="#a6a6a6"/><rect x="94.40" y="534.80" width="0.80" height="23.70" fill="#a6a6a6"/><rect x="95.60" y="549.20" width="2.40" height="9.30" fill="#a6a6a6"/><rect x="103.50" y="545.20" width="1.00" height="13.30" fill="#a6a6a6"/><rect x="109.40" y="521.50" width="1.00" height="37.00" fill="#a6a6a6"/><rect x="110.15" y="535.60" width="0.90" height="22.90" fill="#a6a6a6"/><rect x="113.10" y="552.40" width="1.00" height="6.10" fill="#a6a6a6"/><rect x="117.10" y="552.00" width="1.00" height="6.50" fill="#a6a6a6"/><rect x="48.50" y="556.50" width="0.80" height="2.00" fill="#a6a6a6"/><rect x="49.40" y="554.50" width="0.80" height="4.00" fill="#a6a6a6"/><rect x="50.30" y="554.10" width="0.80" height="4.40" fill="#a6a6a6"/><rect x="51.20" y="557.30" width="0.80" height="1.20" fill="#a6a6a6"/><rect x="52.10" y="547.50" width="0.80" height="11.00" fill="#a6a6a6"/><rect x="53.00" y="553.50" width="0.80" height="5.00" fill="#a6a6a6"/><rect x="53.90" y="547.50" width="0.80" height="11.00" fill="#a6a6a6"/><rect x="54.80" y="545.50" width="0.80" height="13.00" fill="#a6a6a6"/><rect x="55.70" y="554.50" width="0.80" height="4.00" fill="#a6a6a6"/><rect x="56.60" y="556.90" width="0.80" height="1.60" fill="#a6a6a6"/><rect x="57.50" y="545.50" width="0.80" height="13.00" fill="#a6a6a6"/><rect x="58.40" y="557.70" width="0.80" height="0.80" fill="#a6a6a6"/><rect x="59.30" y="555.50" width="0.80" height="3.00" fill="#a6a6a6"/><rect x="60.20" y="556.50" width="0.80" height="2.00" fill="#a6a6a6"/><rect x="61.10" y="557.70" width="0.80" height="0.80" fill="#a6a6a6"/><rect x="62.00" y="552.50" width="0.80" height="6.00" fill="#a6a6a6"/><rect x="62.90" y="554.90" width="0.80" height="3.60" fill="#a6a6a6"/><rect x="63.80" y="549.50" width="0.80" height="9.00" fill="#a6a6a6"/><rect x="64.70" y="554.10" width="0.80" height="4.40" fill="#a6a6a6"/><rect x="65.60" y="556.90" width="0.80" height="1.60" fill="#a6a6a6"/><rect x="66.50" y="555.50" width="0.80" height="3.00" fill="#a6a6a6"/><rect x="67.40" y="547.50" width="0.80" height="11.00" fill="#a6a6a6"/><rect x="68.30" y="554.90" width="0.80" height="3.60" fill="#a6a6a6"/><rect x="69.20" y="552.50" width="0.80" height="6.00" fill="#a6a6a6"/><rect x="70.10" y="554.90" width="0.80" height="3.60" fill="#a6a6a6"/><rect x="71.00" y="553.30" width="0.80" height="5.20" fill="#a6a6a6"/><rect x="71.90" y="556.50" width="0.80" height="2.00" fill="#a6a6a6"/><rect x="72.80" y="557.70" width="0.80" height="0.80" fill="#a6a6a6"/><rect x="73.70" y="556.90" width="0.80" height="1.60" fill="#a6a6a6"/><rect x="74.60" y="555.70" width="0.80" height="2.80" fill="#a6a6a6"/><rect x="75.50" y="557.30" width="0.80" height="1.20" fill="#a6a6a6"/><rect x="76.40" y="556.50" width="0.80" height="2.00" fill="#a6a6a6"/><rect x="77.30" y="552.50" width="0.80" height="6.00" fill="#a6a6a6"/><rect x="78.20" y="555.50" width="0.80" height="3.00" fill="#a6a6a6"/><rect x="79.10" y="547.50" width="0.80" height="11.00" fill="#a6a6a6"/><rect x="80.00" y="555.50" width="0.80" height="3.00" fill="#a6a6a6"/><rect x="80.90" y="554.50" width="0.80" height="4.00" fill="#a6a6a6"/><rect x="81.80" y="554.90" width="0.80" height="3.60" fill="#a6a6a6"/><rect x="82.70" y="555.50" width="0.80" height="3.00" fill="#a6a6a6"/><rect x="83.60" y="556.50" width="0.80" height="2.00" fill="#a6a6a6"/><rect x="84.50" y="555.70" width="0.80" height="2.80" fill="#a6a6a6"/><rect x="85.40" y="552.50" width="0.80" height="6.00" fill="#a6a6a6"/><rect x="86.30" y="556.50" width="0.80" height="2.00" fill="#a6a6a6"/><rect x="87.20" y="555.50" width="0.80" height="3.00" fill="#a6a6a6"/><rect x="88.10" y="545.50" width="0.80" height="13.00" fill="#a6a6a6"/><rect x="89.00" y="556.50" width="0.80" height="2.00" fill="#a6a6a6"/><rect x="89.90" y="556.10" width="0.80" height="2.40" fill="#a6a6a6"/><rect x="90.80" y="556.90" width="0.80" height="1.60" fill="#a6a6a6"/><rect x="91.70" y="551.50" width="0.80" height="7.00" fill="#a6a6a6"/><rect x="92.60" y="556.90" width="0.80" height="1.60" fill="#a6a6a6"/><rect x="93.50" y="549.50" width="0.80" height="9.00" fill="#a6a6a6"/><rect x="94.40" y="545.50" width="0.80" height="13.00" fill="#a6a6a6"/><rect x="95.30" y="545.50" width="0.80" height="13.00" fill="#a6a6a6"/><rect x="96.20" y="545.50" width="0.80" height="13.00" fill="#a6a6a6"/><rect x="97.10" y="556.50" width="0.80" height="2.00" fill="#a6a6a6"/><rect x="98.00" y="554.90" width="0.80" height="3.60" fill="#a6a6a6"/><rect x="98.90" y="545.50" width="0.80" height="13.00" fill="#a6a6a6"/><rect x="99.80" y="551.50" width="0.80" height="7.00" fill="#a6a6a6"/><rect x="100.70" y="554.90" width="0.80" height="3.60" fill="#a6a6a6"/><rect x="101.60" y="551.50" width="0.80" height="7.00" fill="#a6a6a6"/><rect x="102.50" y="554.50" width="0.80" height="4.00" fill="#a6a6a6"/><rect x="103.40" y="551.50" width="0.80" height="7.00" fill="#a6a6a6"/><rect x="104.30" y="555.70" width="0.80" height="2.80" fill="#a6a6a6"/><rect x="105.20" y="556.10" width="0.80" height="2.40" fill="#a6a6a6"/><rect x="106.10" y="557.70" width="0.80" height="0.80" fill="#a6a6a6"/><rect x="107.00" y="557.70" width="0.80" height="0.80" fill="#a6a6a6"/><rect x="107.90" y="556.10" width="0.80" height="2.40" fill="#a6a6a6"/><rect x="108.80" y="556.10" width="0.80" height="2.40" fill="#a6a6a6"/><rect x="109.70" y="551.50" width="0.80" height="7.00" fill="#a6a6a6"/><rect x="110.60" y="554.50" width="0.80" height="4.00" fill="#a6a6a6"/><polygon points="111.0,558.5 111.0,556.1 113.0,553.8 114.8,555.4 116.0,553.3 118.2,556.2 119.7,552.8 121.3,556.5 123.1,553.0 124.4,556.2 126.1,552.8 127.9,555.4 129.3,553.9 131.5,555.3 133.3,554.2 134.7,556.0 136.1,553.0 138.5,556.5 140.1,553.0 142.2,555.5 143.9,554.5 145.5,555.6 147.1,554.1 148.8,556.2 150.6,552.9 152.0,556.9 154.6,553.0 157.1,556.2 159.7,553.0 161.2,555.8 163.5,553.6 165.5,556.5 167.2,554.5 168.4,556.0 170.0,553.4 171.3,555.6 173.5,553.2 175.9,555.6 177.9,555.0 180.2,556.7 181.8,553.8 183.7,556.4 186.3,553.9 187.9,556.6 190.3,554.2 192.6,556.5 194.1,554.2 196.5,556.8 198.8,553.5 201.1,555.9 202.3,554.1 204.7,557.0 206.3,554.8 208.2,556.5 210.1,553.9 211.3,557.0 212.7,555.1 214.0,555.8 216.4,555.2 218.3,556.7 219.9,554.7 222.0,556.3 223.7,555.1 225.4,557.0 227.4,554.2 229.1,557.1 230.5,554.8 232.6,556.2 234.3,554.1 236.4,556.6 238.1,554.7 240.3,556.7 242.5,554.8 244.0,556.6 246.2,555.5 248.0,556.7 250.4,554.1 252.1,556.2 254.4,555.3 256.3,557.1 258.6,554.7 261.1,556.4 263.2,554.7 265.2,557.2 267.2,555.8 268.6,556.5 269.9,555.7 271.2,556.4 272.7,555.9 275.0,557.2 277.4,555.0 279.8,556.3 281.8,554.8 283.1,556.6 285.0,555.0 286.3,556.6 288.8,556.0 290.5,556.9 292.9,555.8 294.3,557.2 296.4,555.1 298.1,557.1 299.9,555.7 301.7,557.4 303.6,554.9 305.3,556.8 306.8,555.4 309.0,556.9 310.9,555.7 313.0,556.7 314.5,556.2 316.7,556.7 318.6,555.8 320.8,557.4 322.4,556.2 324.4,557.3 325.9,555.6 328.5,557.4 330.7,556.0 333.1,557.1 334.6,556.3 335.9,557.2 337.6,556.3 339.3,557.4 341.6,556.4 344.2,557.2 346.2,556.0 348.6,556.9 350.6,556.0 352.8,556.9 354.5,555.8 357.1,557.3 358.6,556.3 360.8,557.1 363.4,555.7 364.9,557.5 366.5,556.4 368.6,557.0 371.1,556.3 373.5,557.4 375.3,555.8 376.6,557.6 379.0,556.3 380.7,557.2 382.8,556.6 384.5,557.3 386.4,556.4 388.4,556.9 390.2,556.1 391.5,557.5 393.7,556.5 396.1,557.0 397.4,555.7 399.2,557.1 401.4,556.4 403.6,557.2 405.9,556.4 408.1,557.0 410.3,556.2 411.6,557.3 413.3,556.0 415.5,557.3 416.9,556.1 419.0,557.6 421.5,556.1 422.8,557.0 424.2,556.4 426.5,557.3 428.4,556.1 430.3,557.5 431.7,556.7 433.9,557.2 435.9,556.0 437.6,557.5 439.3,555.9 440.6,557.4 442.1,556.0 443.8,557.5 445.6,556.3 447.9,557.5 450.2,556.7 451.8,557.7 453.2,556.1 455.4,557.6 456.9,556.4 459.1,557.2 461.4,556.3 462.8,557.5 464.2,556.4 466.2,557.6 467.8,556.1 469.0,557.2 471.5,556.0 473.2,557.4 475.2,556.3 477.8,557.3 479.4,556.1 481.3,557.4 483.5,556.9 485.8,557.4 487.7,556.5 489.5,557.9 491.5,557.2 493.4,557.8 495.2,557.3 497.7,558.0 499.1,557.7 501.2,558.4 502.9,558.2 504.2,558.5 506.7,558.4 505.0,558.5" fill="#a6a6a6"/><rect x="46.50" y="451.50" width="595.00" height="107.00" fill="none" stroke="#959595" stroke-width="1"/><line x1="46.70" y1="558.50" x2="46.70" y2="563.50" stroke="#959595" stroke-width="1"/><text x="46.70" y="574.20" text-anchor="middle" font-family='"Liberation Serif", serif' font-size="11" font-weight="normal" fill="#111">0</text><line x1="134.86" y1="558.50" x2="134.86" y2="563.50" stroke="#959595" stroke-width="1"/><text x="134.86" y="574.20" text-anchor="middle" font-family='"Liberation Serif", serif' font-size="11" font-weight="normal" fill="#111">2</text><line x1="223.02" y1="558.50" x2="223.02" y2="563.50" stroke="#959595" stroke-width="1"/><text x="223.02" y="574.20" text-anchor="middle" font-family='"Liberation Serif", serif' font-size="11" font-weight="normal" fill="#111">4</text><line x1="311.18" y1="558.50" x2="311.18" y2="563.50" stroke="#959595" stroke-width="1"/><text x="311.18" y="574.20" text-anchor="middle" font-family='"Liberation Serif", serif' font-size="11" font-weight="normal" fill="#111">6</text><line x1="399.34" y1="558.50" x2="399.34" y2="563.50" stroke="#959595" stroke-width="1"/><text x="399.34" y="574.20" text-anchor="middle" font-family='"Liberation Serif", serif' font-size="11" font-weight="normal" fill="#111">8</text><line x1="487.50" y1="558.50" x2="487.50" y2="563.50" stroke="#959595" stroke-width="1"/><text x="487.50" y="574.20" text-anchor="middle" font-family='"Liberation Serif", serif' font-size="11" font-weight="normal" fill="#111">10</text><line x1="575.66" y1="558.50" x2="575.66" y2="563.50" stroke="#959595" stroke-width="1"/><text x="575.66" y="574.20" text-anchor="middle" font-family='"Liberation Serif", serif' font-size="11" font-weight="normal" fill="#111">12</text><text x="353.30" y="590.80" text-anchor="middle" font-family='"Liberation Serif", serif' font-size="13" font-weight="normal" fill="#111">Time [s]</text><text x="0" y="0" transform="translate(9.80 506.75) rotate(-90)" text-anchor="middle" font-family='"Liberation Serif", serif' font-size="14" fill="#111" textLength="95.00" lengthAdjust="spacingAndGlyphs">Number of spikes</text><text x="650.50" y="463.20" text-anchor="start" font-family='"Liberation Sans", sans-serif' font-size="14" font-weight="bold" fill="#000">E</text></svg></body></html>
